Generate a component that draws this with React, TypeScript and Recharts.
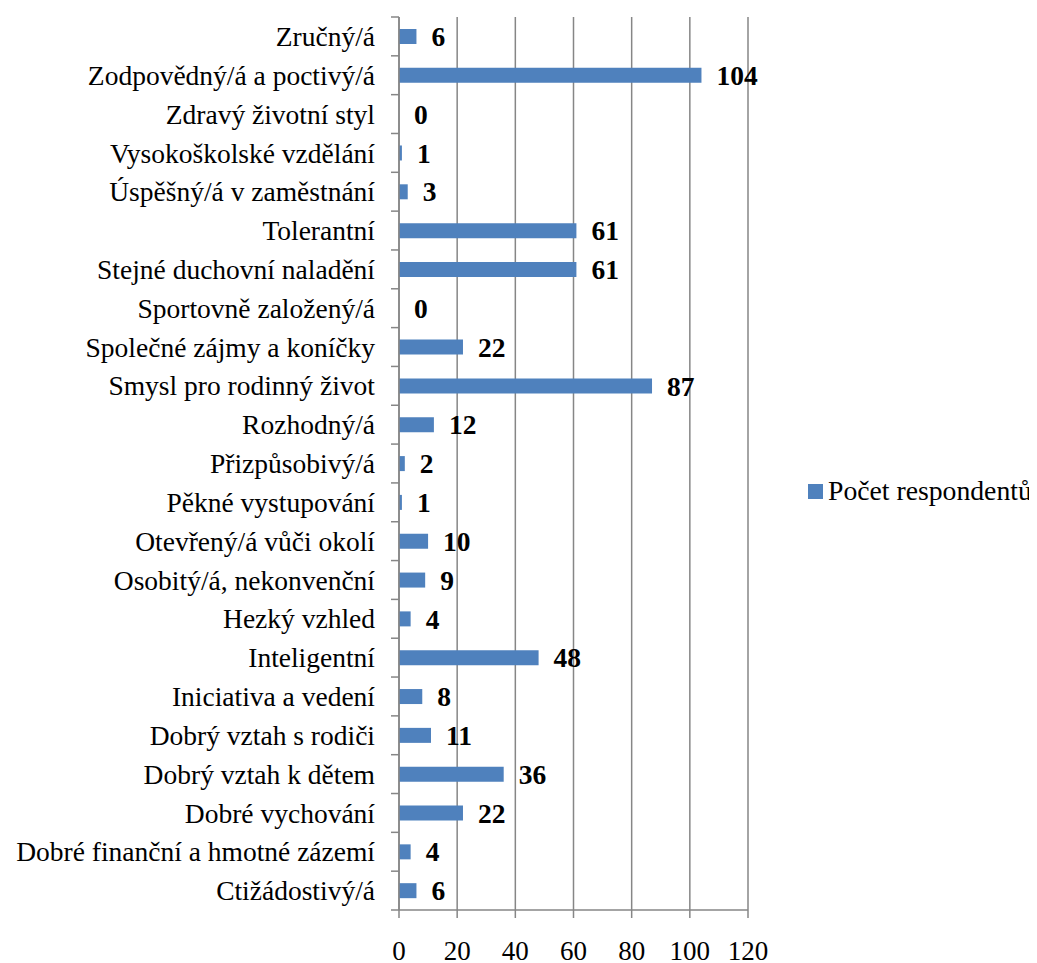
import React from 'react';
import { BarChart, Bar, XAxis, YAxis, CartesianGrid, Legend, LabelList } from 'recharts';

const categories = [
    'Zručný/á',
    'Zodpovědný/á a poctivý/á',
    'Zdravý životní styl',
    'Vysokoškolské vzdělání',
    'Úspěšný/á v zaměstnání',
    'Tolerantní',
    'Stejné duchovní naladění',
    'Sportovně založený/á',
    'Společné zájmy a koníčky',
    'Smysl pro rodinný život',
    'Rozhodný/á',
    'Přizpůsobivý/á',
    'Pěkné vystupování',
    'Otevřený/á vůči okolí',
    'Osobitý/á, nekonvenční',
    'Hezký vzhled',
    'Inteligentní',
    'Iniciativa a vedení',
    'Dobrý vztah s rodiči',
    'Dobrý vztah k dětem',
    'Dobré vychování',
    'Dobré finanční a hmotné zázemí',
    'Ctižádostivý/á',
];

const respondents = [6, 104, 0, 1, 3, 61, 61, 0, 22, 87, 12, 2, 1, 10, 9, 4, 48, 8, 11, 36, 22, 4, 6];

const xTicks = [0, 20, 40, 60, 80, 100, 120];

const seriesName = 'Počet respondentů';

const FONT = '"Liberation Serif", "Times New Roman", serif';
const BAR_COLOR = '#4F81BD';
const GRID_COLOR = '#868686';

const CHART_W = 1021;
const CHART_H = 955;
const MARGIN = { top: 9, right: 281, bottom: 0, left: 0 };
const Y_AXIS_W = 391;
const X_AXIS_H = 53;
const BAND = (CHART_H - MARGIN.top - MARGIN.bottom - X_AXIS_H) / categories.length;

const data = categories.map((name, i) => ({ name, value: respondents[i] }));

const CategoryTick = (props: any) => {
    const { x, y, payload, index } = props;
    const isLast = index === categories.length - 1;
    return (
        <g>
            <line x1={x - 8} x2={x} y1={y - BAND / 2} y2={y - BAND / 2} stroke={GRID_COLOR} strokeWidth={1.5} />
            {isLast && (
                <line x1={x - 8} x2={x} y1={y + BAND / 2} y2={y + BAND / 2} stroke={GRID_COLOR} strokeWidth={1.5} />
            )}
            <text x={x - 24} y={y} dy="0.35em" textAnchor="end" style={{ fontSize: 27.5, fontFamily: FONT, fill: '#000' }}>
                {payload.value}
            </text>
        </g>
    );
};

const ValueTick = (props: any) => {
    const { x, y, payload } = props;
    return (
        <text x={x} y={y + 42} textAnchor="middle" style={{ fontSize: 27, fontFamily: FONT, fill: '#000' }}>
            {payload.value}
        </text>
    );
};

const renderValueLabel = (props: any) => {
    const { x, y, width, height, value } = props;
    return (
        <text
            x={Number(x) + Number(width) + 15}
            y={Number(y) + Number(height) / 2}
            dy="0.35em"
            textAnchor="start"
            style={{ fontFamily: FONT, fontSize: 27.5, fontWeight: 'bold', fill: '#000' }}
        >
            {String(value)}
        </text>
    );
};

const LegendContent = () => (
    <div style={{ display: 'flex', alignItems: 'center', fontFamily: FONT, fontSize: 27.7, color: '#000', whiteSpace: 'nowrap' }}>
        <span style={{ display: 'inline-block', width: 15, height: 15, background: BAR_COLOR, marginRight: 5 }} />
        <span>{seriesName}</span>
    </div>
);

// keep zero bars (and their labels) in the layout; they stay invisible
const minBar = (value: number) => (value === 0 ? 0.01 : 0);

export default function App() {
    return (
        <div style={{ width: CHART_W, height: CHART_H, background: '#fff' }}>
            <BarChart width={CHART_W} height={CHART_H} data={data} layout="vertical" margin={MARGIN}>
                <CartesianGrid horizontal={false} vertical stroke={GRID_COLOR} strokeWidth={1.5} />
                <XAxis
                    type="number"
                    domain={[0, 120]}
                    ticks={xTicks}
                    interval={0}
                    height={X_AXIS_H}
                    tickSize={8}
                    tickMargin={0}
                    axisLine={{ stroke: GRID_COLOR, strokeWidth: 1.5 }}
                    tickLine={{ stroke: GRID_COLOR, strokeWidth: 1.5 }}
                    tick={<ValueTick />}
                />
                <YAxis
                    type="category"
                    dataKey="name"
                    width={Y_AXIS_W}
                    interval={0}
                    tickSize={0}
                    tickMargin={0}
                    tickLine={false}
                    axisLine={{ stroke: GRID_COLOR, strokeWidth: 1.5 }}
                    tick={<CategoryTick />}
                />
                <Legend
                    layout="horizontal"
                    align="center"
                    verticalAlign="middle"
                    content={<LegendContent />}
                    wrapperStyle={{ left: 800, top: 467, width: 'auto', height: 30 }}
                />
                <Bar
                    dataKey="value"
                    name={seriesName}
                    fill={BAR_COLOR}
                    barSize={15}
                    minPointSize={minBar}
                    isAnimationActive={false}
                >
                    <LabelList dataKey="value" content={renderValueLabel} />
                </Bar>
            </BarChart>
        </div>
    );
}
